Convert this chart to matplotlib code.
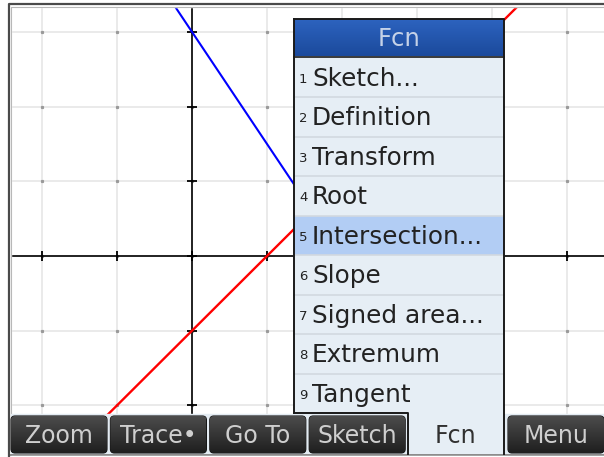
import matplotlib
matplotlib.use("Agg")
import matplotlib.pyplot as plt
import numpy as np
from matplotlib.colors import to_rgb
from matplotlib.patches import FancyBboxPatch, Rectangle

W, H = 604, 457

# graph values
grid_x = [-2, -1, 0, 1, 2, 3, 4, 5]
grid_y = [-2, -1, 0, 1, 2, 3]
blue_x = [-1.0, 3.0]
blue_y = [4.5, -1.5]
red_x = [-3.0, 6.0]
red_y = [-4.0, 5.0]

# menu / soft keys
menu_title = "Fcn"
menu_numbers = ["1", "2", "3", "4", "5", "6", "7", "8", "9"]
menu_items = ["Sketch...", "Definition", "Transform", "Root", "Intersection...",
              "Slope", "Signed area...", "Extremum", "Tangent"]
highlighted = 4
buttons = ["Zoom", "Trace\u2022", "Go To", "Sketch", "Fcn", "Menu"]
active_button = 4


def gradient(ax, x0, y0, x1, y1, top, bottom, zorder, clip=None):
    """Vertical colour gradient in pixel coords"""
    c0, c1 = np.array(to_rgb(top)), np.array(to_rgb(bottom))
    t = np.linspace(0, 1, 64)[:, None]
    img = (c0 * (1 - t) + c1 * t)[:, None, :]
    im = ax.imshow(img, extent=(x0, x1, y1, y0), aspect="auto",
                   interpolation="bilinear", zorder=zorder)
    if clip is not None:
        im.set_clip_path(clip)
    return im


def draw_graph(fig):
    """Grid, axes and the two lines"""
    left, right, top, bottom = 11, W, 7, 453
    ax = fig.add_axes([left / W, (H - bottom) / H, (right - left) / W, (bottom - top) / H])
    # pixel -> unit: origin at (192, 256), 75 px per unit
    ax.set_xlim((left - 192) / 75, (right - 192) / 75)
    ax.set_ylim((256 - bottom) / 74.7, (256 - top) / 74.7)
    for s in ax.spines.values():
        s.set_visible(False)
    ax.set_xticks(grid_x)
    ax.set_yticks(grid_y)
    ax.tick_params(length=0, labelbottom=False, labelleft=False)
    ax.grid(color="#e6e6e6", lw=1.2)
    gx, gy = np.meshgrid(grid_x, grid_y)
    ax.plot(gx.ravel(), gy.ravel(), ls="none", marker="s", ms=1.3, color="#9a9a9a", zorder=2)
    ax.axhline(0, color="black", lw=1.2, zorder=3)
    ax.axvline(0, color="black", lw=1.2, zorder=3)
    ax.plot(grid_x, np.zeros(len(grid_x)), ls="none", marker="|", ms=7, mew=1.3, color="black", zorder=3)
    ax.plot(np.zeros(len(grid_y)), grid_y, ls="none", marker="_", ms=7, mew=1.3, color="black", zorder=3)
    ax.plot(blue_x, blue_y, color="#0000ff", lw=1.5, zorder=4)
    ax.plot(red_x, red_y, color="#ff0000", lw=1.7, zorder=4)
    return ax


def draw_ui(fig):
    """Popup menu, soft keys and screen frame, in pixel coords"""
    ov = fig.add_axes([0, 0, 1, 1])
    ov.axis("off")

    # frame
    ov.add_patch(Rectangle((0, 0), W, 7, color="white", zorder=1))
    ov.add_patch(Rectangle((0, 0), 11, H, color="white", zorder=1))
    ov.plot([8.5, 8.5, W], [H, 3.5, 3.5], color="#4a4a4a", lw=1.6, zorder=2)
    ov.plot([11, 11, W], [H, 6.5, 6.5], color="#b8b8b8", lw=0.8, zorder=2)

    # soft key strip
    ov.add_patch(Rectangle((11, 414), W - 11, 40, color="#e3ebf2", zorder=2))
    ov.plot([11, W], [455, 455], color="#8a8a8a", lw=1.4, zorder=2)
    ov.add_patch(Rectangle((11, 456), W - 11, 2, color="white", zorder=2))
    for i, label in enumerate(buttons):
        x0 = 11 + i * 99.4
        x1 = x0 + 96
        if i == active_button:
            continue
        p = FancyBboxPatch((x0, 416), x1 - x0, 37, boxstyle="round,pad=0,rounding_size=4",
                           fc="#2b2b2b", ec="#111111", lw=0.8, zorder=3)
        ov.add_patch(p)
        gradient(ov, x0, 416, x1, 453, "#4c4c4c", "#1f1f1f", 3.5, clip=p)
        ov.text((x0 + x1) / 2, 443, label, ha="center", va="baseline",
                fontsize=17, color="#cfcfcf", zorder=4)

    # menu
    mx0, mx1, my0, hy, my1 = 294, 504, 19, 56, 413
    ov.add_patch(Rectangle((mx0, my0), mx1 - mx0, my1 - my0, fc="#e6eef5", zorder=5))
    gradient(ov, mx0, my0, mx1, hy, "#2d63bf", "#1b4a9c", 5.5)
    ov.text((mx0 + mx1) / 2, 46, menu_title, ha="center", va="baseline",
            fontsize=17.5, color="#c5d2e8", zorder=6)
    row_h = (my1 - 58) / len(menu_items)
    for i, (num, item) in enumerate(zip(menu_numbers, menu_items)):
        top = 58 + i * row_h
        if i == highlighted:
            ov.add_patch(Rectangle((mx0, top), mx1 - mx0, row_h, fc="#b2cdf4", zorder=5.2))
        if i > 0:
            ov.plot([mx0, mx1], [top, top], color="#d2d9e0", lw=1.2, zorder=5.3)
        ov.text(299, top + 25, num, ha="left", va="baseline", fontsize=9.5,
                color="#222222", zorder=6)
        ov.text(312, top + 28, item, ha="left", va="baseline", fontsize=17.8,
                color="#222222", zorder=6)

    # active tab joined to the menu
    tx0 = 11 + active_button * 99.4 - 1
    ov.add_patch(Rectangle((tx0, my1), mx1 - tx0, 454 - my1, fc="#e6eef5", zorder=5))
    ov.text((tx0 + mx1) / 2, 443, buttons[active_button], ha="center", va="baseline",
            fontsize=17, color="#303030", zorder=6)
    ov.plot([mx0, mx0], [my0, my1], color="#1a1a1a", lw=1.4, zorder=7)
    ov.plot([mx0, tx0, tx0], [my1, my1, 454], color="#1a1a1a", lw=1.4, zorder=7)
    ov.plot([mx0, mx1, mx1], [my0, my0, 454], color="#1a1a1a", lw=1.4, zorder=7)
    ov.plot([mx0, mx1], [hy + 1, hy + 1], color="#1a1a1a", lw=1.2, zorder=7)

    ov.set_xlim(0, W)
    ov.set_ylim(H, 0)
    return ov


if __name__ == "__main__":
    fig = plt.figure(figsize=(W / 100, H / 100), dpi=100)
    fig.patch.set_facecolor("white")
    draw_graph(fig)
    draw_ui(fig)
    fig.savefig("out.png", dpi=100)
